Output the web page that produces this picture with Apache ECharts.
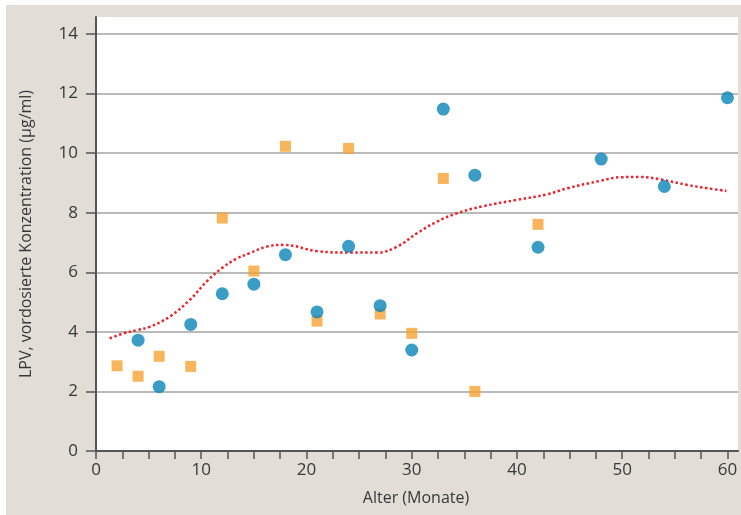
<!DOCTYPE html>
<html>
<head>
<meta charset="utf-8">
<script src="https://cdn.jsdelivr.net/npm/echarts@6/dist/echarts.min.js"></script>
<style>
html,body{margin:0;padding:0;background:#ffffff;}
#chart{position:absolute;left:6px;top:5px;width:735px;height:510px;background:#e2ddd7;}
</style>
</head>
<body>
<div id="chart"></div>
<script>
// Age (months) / LPV concentration (µg/ml)
const blueX = [4, 6, 9, 12, 15, 18, 21, 24, 27, 30, 33, 36, 42, 48, 54, 60];
const blueY = [3.72, 2.16, 4.25, 5.28, 5.6, 6.59, 4.67, 6.87, 4.88, 3.39, 11.48, 9.26, 6.84, 9.8, 8.88, 11.86];
const orangeX = [2, 4, 6, 9, 12, 15, 18, 21, 24, 27, 30, 33, 36, 42];
const orangeY = [2.86, 2.51, 3.18, 2.84, 7.82, 6.04, 10.23, 4.36, 10.16, 4.6, 3.95, 9.15, 2.0, 7.61];
const curveX = [1.3, 2.6, 3.9, 5.1, 7.0, 8.9, 10.6, 12.0, 13.3, 14.6, 16.2, 17.8, 21, 24.2, 26.7, 28.6, 30.5, 32.4, 34.3, 36.8, 40, 42.9, 44.8, 47.9, 49.8, 51.7, 53.6, 56.2, 58.1, 59.9];
const curveY = [3.78, 3.95, 4.06, 4.17, 4.51, 5.07, 5.72, 6.15, 6.45, 6.64, 6.86, 6.92, 6.71, 6.66, 6.66, 6.86, 7.31, 7.7, 7.98, 8.22, 8.43, 8.62, 8.82, 9.07, 9.19, 9.2, 9.12, 8.93, 8.82, 8.73];
const xTicks = [0, 10, 20, 30, 40, 50, 60];
const xTickMarks = [0, 2.5, 5, 7.5, 10, 12.5, 15, 17.5, 20, 22.5, 25, 27.5, 30, 32.5, 35, 37.5, 40, 42.5, 45, 47.5, 50, 52.5, 55, 57.5, 60];
const yTicks = [0, 2, 4, 6, 8, 10, 12, 14];
const xTitle = 'Alter (Monate)';
const yTitle = 'LPV, vordosierte Konzentration (µg/ml)';

const zip = (a, b) => a.map((v, i) => [v, b[i]]);
const FONT = '"Open Sans", "Noto Sans", sans-serif';
const TXT = '#383838';

const chart = echarts.init(document.getElementById('chart'), null, {renderer: 'canvas'});
chart.setOption({
  backgroundColor: '#e2ddd7',
  animation: false,
  title: {
    text: xTitle,
    left: 405, top: 480,
    textAlign: 'center',
    textStyle: {fontFamily: FONT, fontSize: 16, fontWeight: 'normal', color: TXT}
  },
  grid: {
    left: 90, right: 3, top: 12, bottom: 64,
    show: true, backgroundColor: '#ffffff', borderWidth: 0
  },
  xAxis: {
    type: 'value', min: 0, max: 61, interval: 10,
    axisLine: {show: true, onZero: false, lineStyle: {color: '#555555', width: 2}},
    axisTick: {show: true, inside: false, length: 8, customValues: xTickMarks, lineStyle: {color: '#555555', width: 1.5}},
    minorTick: {show: false},
    splitLine: {show: false},
    axisLabel: {
      margin: 11, fontFamily: FONT, fontSize: 17, color: TXT,
      customValues: xTicks
    }
  },
  yAxis: {
    type: 'value', min: 0, max: 14.57, interval: 2,
    name: yTitle, nameLocation: 'middle', nameGap: 62, nameRotate: 90,
    nameTextStyle: {fontFamily: FONT, fontSize: 16, color: TXT},
    axisLine: {show: true, lineStyle: {color: '#555555', width: 2}},
    axisTick: {show: true, inside: false, length: 10, customValues: yTicks, lineStyle: {color: '#555555', width: 1.5}},
    splitLine: {show: true, lineStyle: {color: '#a3a3a3', width: 1.5}},
    axisLabel: {
      margin: 18, fontFamily: FONT, fontSize: 17, color: TXT,
      customValues: yTicks
    }
  },
  series: [
    {
      type: 'line', data: zip(curveX, curveY), smooth: 0.4, showSymbol: false, symbol: 'none',
      lineStyle: {color: '#e8252d', width: 2.5, type: [2.5, 2.5]}, z: 1
    },
    {
      type: 'scatter', data: zip(orangeX, orangeY), symbol: 'rect', symbolSize: 11,
      itemStyle: {color: '#f8a333'}, z: 2
    },
    {
      type: 'scatter', data: zip(blueX, blueY), symbol: 'circle', symbolSize: 13,
      itemStyle: {color: '#0784b8'}, z: 3
    }
  ]
});
</script>
</body>
</html>
